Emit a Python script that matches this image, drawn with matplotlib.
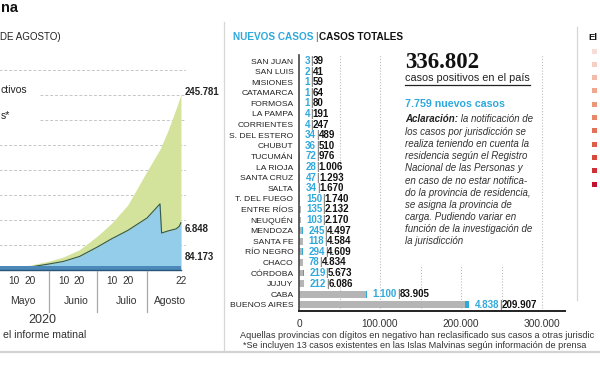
import matplotlib
matplotlib.use("Agg")
import matplotlib.pyplot as plt
import matplotlib.dates as mdates
import matplotlib.transforms as mtransforms
import numpy as np
import pandas as pd
from matplotlib.patches import Rectangle

plt.rcParams['font.family'] = ['Liberation Sans', 'DejaVu Sans']

# ---------------- data ----------------
total_dates = ["2020-04-26", "2020-05-01", "2020-05-10", "2020-05-20", "2020-06-01",
               "2020-06-10", "2020-06-20", "2020-07-01", "2020-07-10", "2020-07-20",
               "2020-08-01", "2020-08-09", "2020-08-14", "2020-08-19", "2020-08-22"]
total_values = [3800, 4400, 6000, 9000, 17000, 25000, 39000, 65000, 90000, 125000,
                190000, 232000, 268000, 310000, 336802]
active_dates = ["2020-04-26", "2020-05-01", "2020-05-10", "2020-05-20", "2020-06-01",
                "2020-06-10", "2020-06-20", "2020-07-01", "2020-07-10", "2020-07-20",
                "2020-08-01", "2020-08-09", "2020-08-10", "2020-08-14", "2020-08-19",
                "2020-08-21", "2020-08-22"]
active_values = [2700, 3100, 3900, 5600, 11500, 16500, 26000, 44000, 60000, 76000,
                 100000, 127000, 71000, 75000, 79000, 84000, 91021]
end_labels = ["245.781", "6.848", "84.173"]
day_ticks = ["2020-05-10", "2020-05-20", "2020-06-10", "2020-06-20",
             "2020-07-10", "2020-07-20", "2020-08-22"]
day_tick_labels = ["10", "20", "10", "20", "10", "20", "22"]
month_names = ["Mayo", "Junio", "Julio", "Agosto"]
month_label_dates = ["2020-05-16", "2020-06-18", "2020-07-19", "2020-08-15"]
month_separators = ["2020-06-01", "2020-07-01", "2020-08-01"]

provinces = ["SAN JUAN", "SAN LUIS", "MISIONES", "CATAMARCA", "FORMOSA", "LA PAMPA",
             "CORRIENTES", "S. DEL ESTERO", "CHUBUT", "TUCUMÁN", "LA RIOJA", "SANTA CRUZ",
             "SALTA", "T. DEL FUEGO", "ENTRE RÍOS", "NEUQUÉN", "MENDOZA", "SANTA FE",
             "RÍO NEGRO", "CHACO", "CÓRDOBA", "JUJUY", "CABA", "BUENOS AIRES"]
new_cases = [3, 2, 1, 1, 1, 4, 4, 34, 36, 72, 28, 47, 34, 150, 135, 103, 245, 118,
             294, 78, 219, 212, 1100, 4838]
total_cases = [39, 41, 59, 64, 80, 191, 247, 489, 510, 976, 1006, 1293, 1670, 1740,
               2132, 2170, 4497, 4584, 4609, 4834, 5673, 6086, 83905, 209907]
bar_ticks = [0, 100000, 200000, 300000]
national_total = 336802
national_new = 7759
legend_colors = ["#f8ddd7", "#f6cfc4", "#f3bba9", "#efa88e", "#eb987a", "#e78768",
                 "#e27257", "#dc5e47", "#d6493c", "#cd3036", "#c3102e"]

W, H = 600, 365
GREEN = "#d3e39b"
BLUE = "#93cde9"
CYAN = "#2fa9dc"


def fmt(v):
    return f"{v:,}".replace(",", ".")


fig = plt.figure(figsize=(6, 3.65), dpi=100)
fig.patch.set_facecolor("white")


def axes_px(x0, y0, x1, y1):
    return fig.add_axes([x0 / W, 1 - y1 / H, (x1 - x0) / W, (y1 - y0) / H])


# ---------------- left: stacked area ----------------
X0, X1 = -10, 186
ax = axes_px(X0, 70, X1, 270)
may1 = mdates.date2num(pd.Timestamp("2020-05-01"))
ppd = 1.61
xmin = may1 + (X0 + 1) / ppd
xmax = may1 + (X1 + 1) / ppd
G = 48000
ax.set_xlim(xmin, xmax)
ax.set_ylim(0, 8 * G)
ax.axis("off")

for k in range(1, 9):
    start = xmin if k not in (6, 7) else may1 + 41 / ppd
    ax.hlines(k * G, start, xmax, colors="#c6c6c6", linestyles=(0, (3, 2)),
              lw=0.7, zorder=1)

td = mdates.date2num(pd.to_datetime(total_dates))
adn = mdates.date2num(pd.to_datetime(active_dates))
ax.fill_between(td, 0, total_values, color=GREEN, lw=0, zorder=2)
ax.fill_between(adn, 0, active_values, color=BLUE, lw=0, zorder=3)
ax.plot(adn, active_values, color="#35584a", lw=0.8, zorder=4)
band_h = 4 / 200 * 8 * G
ax.fill_between([xmin, td[-1]], 0, band_h, color="#4c89b8", lw=0, zorder=5)
ax.plot([xmin, td[-1]], [0, 0], color="#27557a", lw=1.0, zorder=6, clip_on=False)

# ---------------- center: bars ----------------
bx = axes_px(299, 55, 565, 311)
ypos = np.arange(len(provinces))
tot = np.array(total_cases)
new = np.array(new_cases)
bx.barh(ypos, tot - new, height=0.66, color="#b5b5b5", zorder=2)
bx.barh(ypos, new, left=tot - new, height=0.66, color=CYAN, zorder=2)
bx.set_ylim((311 - 61) / 10.6, (55 - 61) / 10.6)
bx.set_xlim(0, (565 - 299) / 81 * 100000)
bx.set_yticks(ypos)
bx.set_yticklabels(provinces, fontsize=6.1, color="#222222")
bx.tick_params(axis="y", length=0, pad=4)
bx.set_xticks(bar_ticks)
bx.set_xticklabels([fmt(v) for v in bar_ticks], fontsize=7.3, color="#333333")
bx.tick_params(axis="x", length=0, pad=6)
for s in ("top", "right"):
    bx.spines[s].set_visible(False)
bx.spines["left"].set_color("#444444")
bx.spines["left"].set_linewidth(1.2)
bx.spines["bottom"].set_color("#222222")
bx.spines["bottom"].set_linewidth(1.4)
bx.set_facecolor("none")
for v in range(50000, 300001, 50000):
    bx.axvline(v, color="#bdbdbd", ls=(0, (1, 1.6)), lw=0.8, zorder=1)

for i, (n, t) in enumerate(zip(new_cases, total_cases)):
    a = bx.annotate(fmt(n), xy=(t, i), xytext=(4, 0), textcoords="offset points",
                    ha="left", va="center", fontsize=7, fontweight="bold", color=CYAN,
                    zorder=5)
    b = bx.annotate("|", xy=(1, 0), xycoords=a, ha="left", va="bottom",
                    fontsize=7, color="#444444", zorder=5)
    bx.annotate(fmt(t), xy=(1, 0), xycoords=b, ha="left", va="bottom",
                fontsize=7, fontweight="bold", color="#111111", zorder=5)

# ---------------- overlay (pixel coordinates) ----------------
ov = fig.add_axes([0, 0, 1, 1])
ov.set_xlim(0, W)
ov.set_ylim(H, 0)
ov.axis("off")
blend = mtransforms.blended_transform_factory(ax.transData, ov.transData)

# left chart texts (only the parts visible in the cropped original)
ov.text(0.5, 8, "na", ha="left", va="center", fontsize=10.5,
        fontweight="bold", color="#111111")
ov.text(0.5, 37, "DE AGOSTO)", ha="left", va="center", fontsize=7, color="#222222")
ov.text(0.5, 90, "ctivos", ha="left", va="center", fontsize=7.5, color="#222222")
ov.text(0.5, 116, "s*", ha="left", va="center", fontsize=7.5, color="#222222")
ov.text(185, 92, end_labels[0], ha="left", va="center", fontsize=6.9,
        fontweight="bold", color="#222222")
ov.text(185, 229, end_labels[1], ha="left", va="center", fontsize=6.9,
        fontweight="bold", color="#222222")
ov.text(185, 257, end_labels[2], ha="left", va="center", fontsize=6.9,
        fontweight="bold", color="#222222")

for d, lab in zip(day_ticks, day_tick_labels):
    ov.text(mdates.date2num(pd.Timestamp(d)), 281, lab, transform=blend, ha="center",
            va="center", fontsize=7.3, color="#333333")
for d, lab in zip(month_label_dates, month_names):
    ov.text(mdates.date2num(pd.Timestamp(d)), 301, lab, transform=blend, ha="center",
            va="center", fontsize=7.5, color="#333333")
for d in month_separators:
    xd = mdates.date2num(pd.Timestamp(d))
    ov.plot([xd, xd], [271, 312], transform=blend, color="#a8a8a8", lw=0.9)
ov.text(42, 320, "2020", ha="center", va="center", fontsize=9, color="#333333")
ov.text(3, 335, "el informe matinal", ha="left", va="center", fontsize=7.6,
        color="#333333")

# separators
ov.plot([224, 224], [22, 350], color="#d6d6d6", lw=0.9)
ov.plot([577, 577], [27, 300], color="#d6d6d6", lw=0.9)
ov.plot([0, W], [352, 352], color="#d3d3d3", lw=1.6)

# center header
h1 = ov.text(233, 40, "NUEVOS CASOS", ha="left", va="baseline", fontsize=7.2,
             fontweight="bold", color=CYAN)
h2 = ov.annotate("|", xy=(1, 0), xycoords=h1, xytext=(1.2, 0), textcoords="offset points",
                 ha="left", va="bottom", fontsize=7.2, color="#444444")
ov.annotate("CASOS TOTALES", xy=(1, 0), xycoords=h2, xytext=(1.2, 0),
            textcoords="offset points", ha="left", va="bottom",
            fontsize=7.2, fontweight="bold", color="#111111")

# text panel
ov.add_patch(Rectangle((400, 45), 137, 220, facecolor="white", edgecolor="none", zorder=1))
ov.text(405, 68, fmt(national_total), ha="left", va="baseline", fontsize=16.5,
        fontweight="bold", family=["Liberation Serif", "DejaVu Serif"], color="#111111",
        zorder=3)
ov.text(405, 81, "casos positivos en el país", ha="left", va="baseline", fontsize=7.8,
        color="#222222", zorder=3)
ov.plot([405, 530], [85, 85], color="#222222", lw=0.9, zorder=3)
ov.text(405, 107, f"{fmt(national_new)} nuevos casos", ha="left", va="baseline",
        fontsize=7.7, fontweight="bold", color=CYAN, zorder=3)

para = ["los casos por jurisdicción se",
        "realiza teniendo en cuenta la",
        "residencia según el Registro",
        "Nacional de las Personas y",
        "en caso de no estar notifica-",
        "do la provincia de residencia,",
        "se asigna la provincia de",
        "carga. Pudiendo variar en",
        "función de la investigación de",
        "la jurisdicción"]
p0 = ov.text(405, 122.5, "Aclaración:", ha="left", va="baseline", fontsize=7,
             fontweight="bold", style="italic", color="#222222", zorder=3)
ov.annotate(" la notificación de", xy=(1, 0), xycoords=p0, ha="left", va="bottom",
            fontsize=7, style="italic", color="#333333", zorder=3)
for i, line in enumerate(para):
    ov.text(405, 122.5 + 12.2 * (i + 1), line, ha="left", va="baseline", fontsize=7,
            style="italic", color="#333333", zorder=3)

# footnotes
ov.text(240, 335, "Aquellas provincias con dígitos en negativo han reclasificado sus casos "
        "a otras jurisdic", ha="left", va="center", fontsize=6.6, color="#333333")
ov.text(243, 345, "*Se incluyen 13 casos existentes en las Islas Malvinas según "
        "información de prensa", ha="left", va="center", fontsize=6.6, color="#333333")

# right panel
ov.text(588.5, 37, "El", ha="left", va="center", fontsize=6.8, fontweight="bold",
        color="#111111")
for i, c in enumerate(legend_colors):
    yc = 51 + 13.3 * i
    ov.add_patch(Rectangle((592, yc - 2.5), 5, 5, facecolor=c, edgecolor="none"))

fig.savefig("out.png", dpi=100, facecolor="white")
